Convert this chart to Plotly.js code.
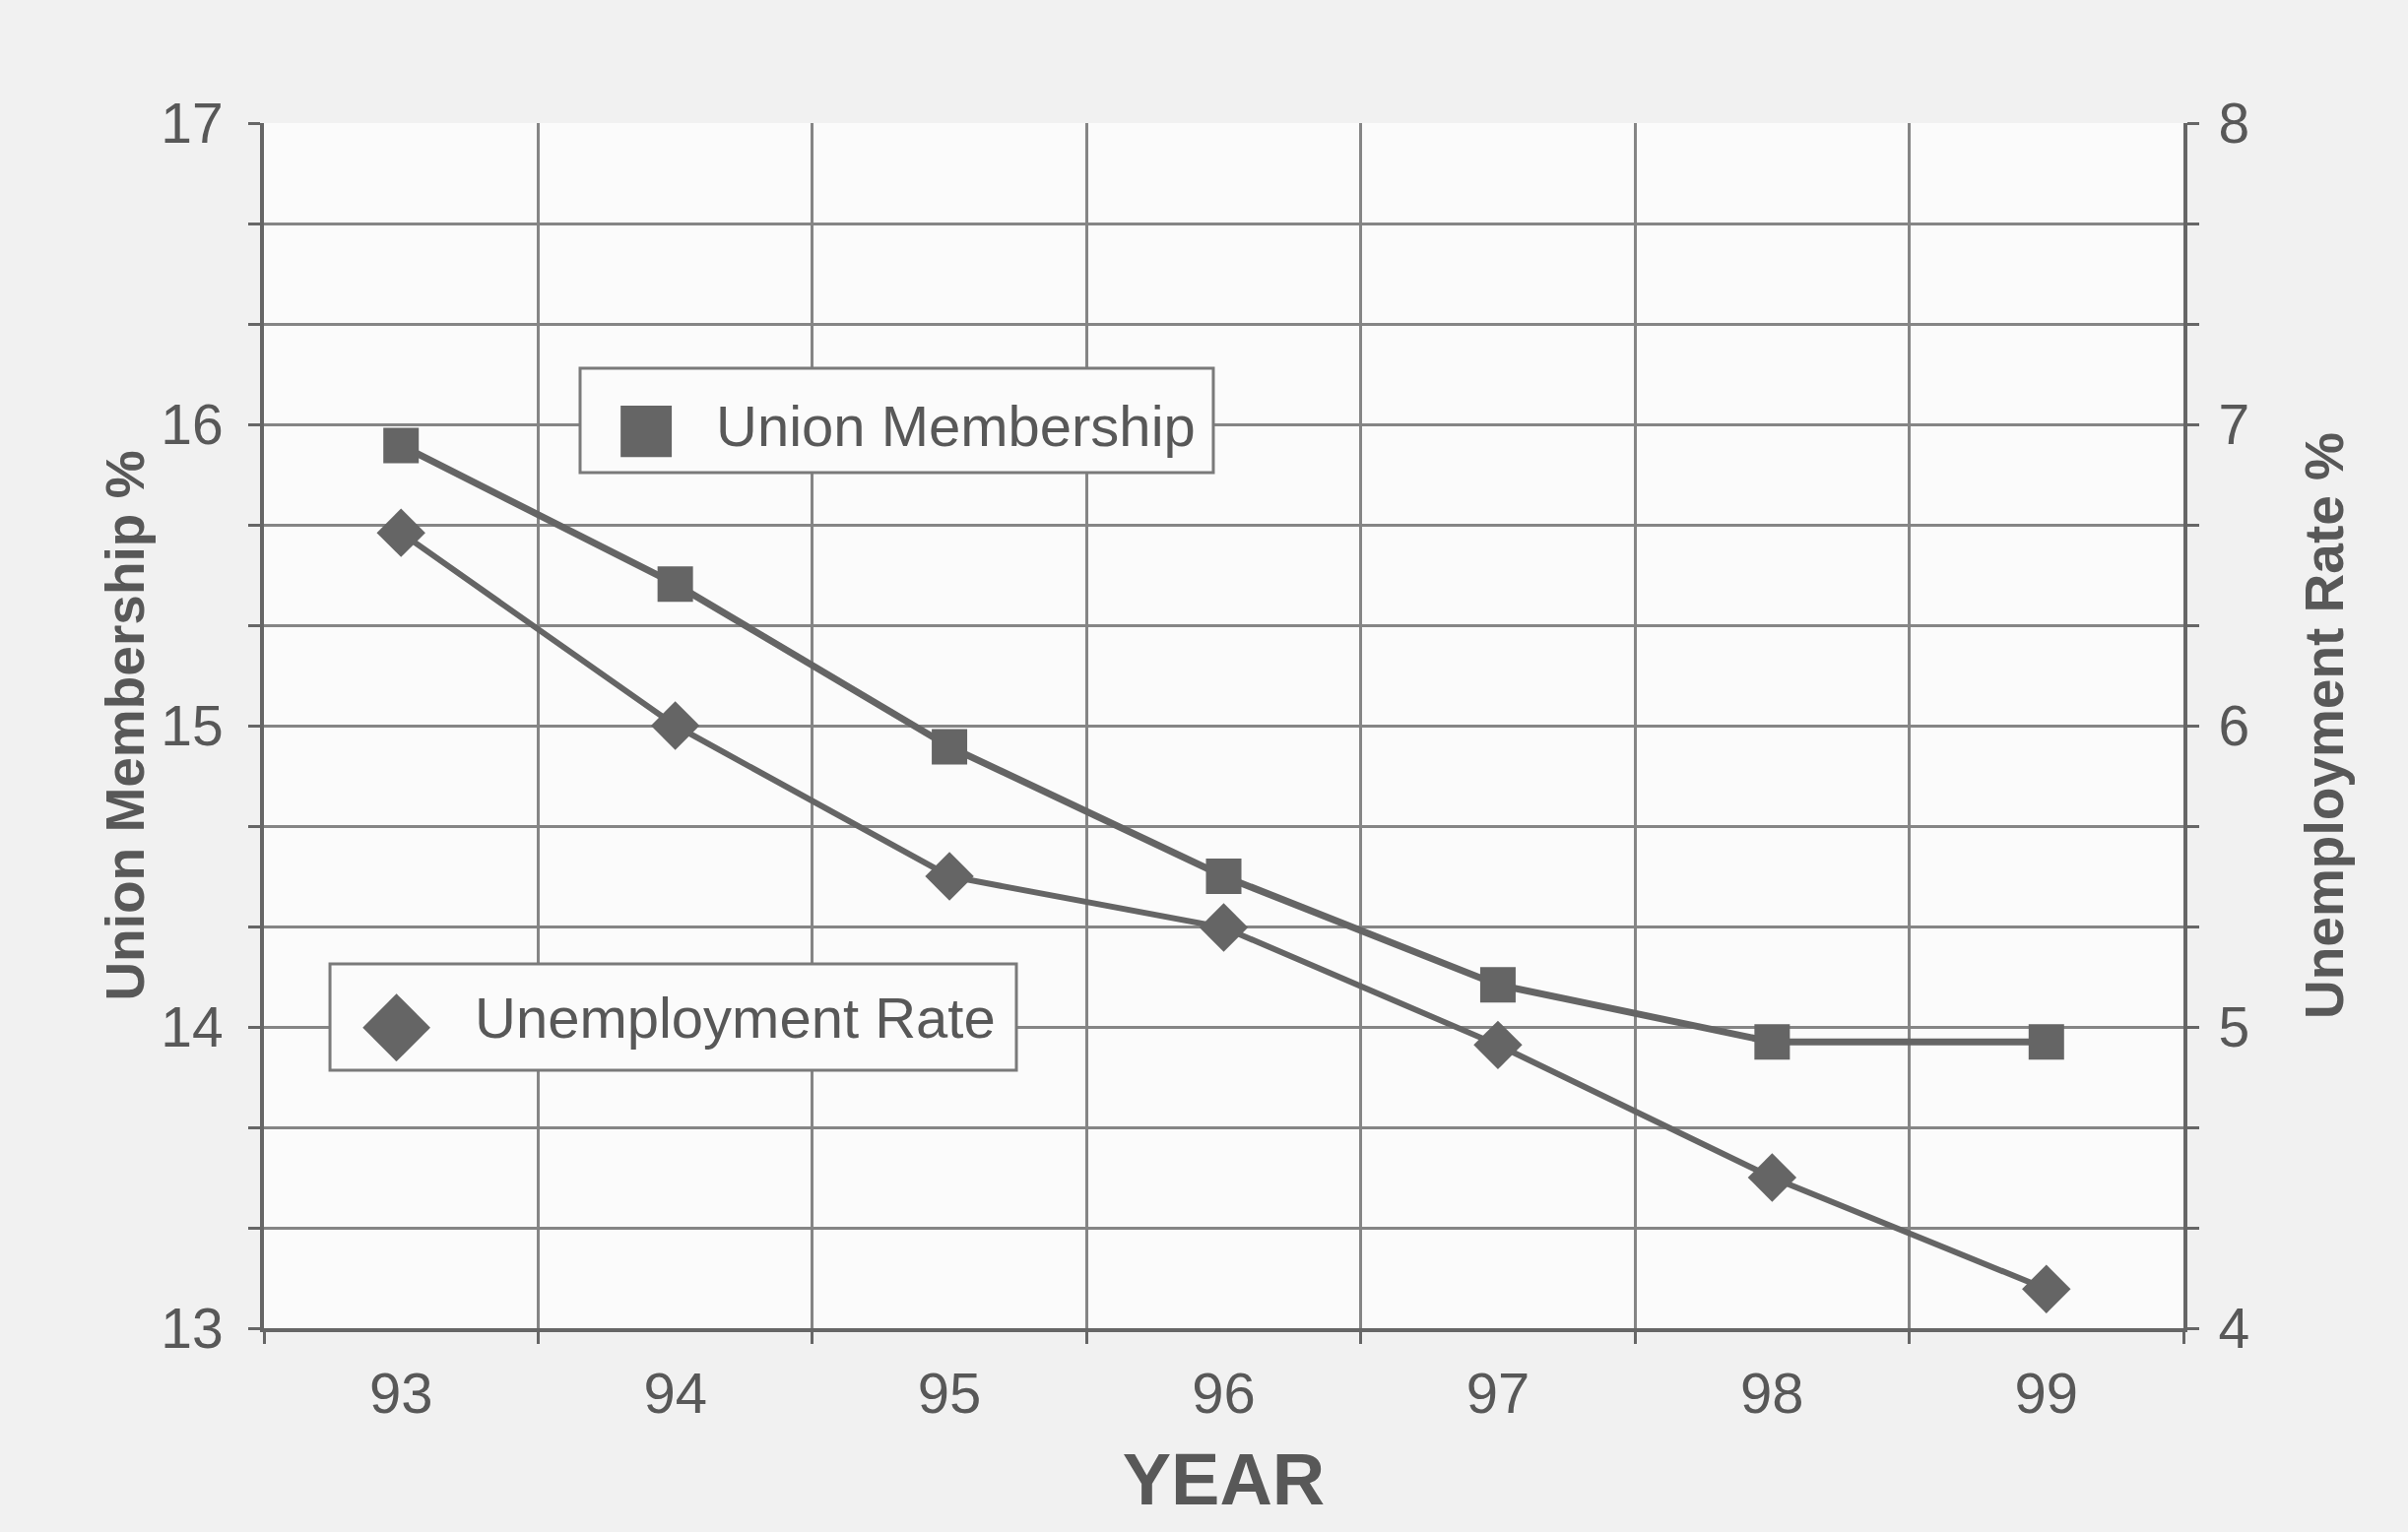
<!DOCTYPE html>
<html>
<head>
<meta charset="utf-8">
<script src="https://cdn.plot.ly/plotly-3.0.1.min.js"></script>
<style>
  html, body { margin: 0; padding: 0; background: #f1f1f1; }
  #chart { width: 2445px; height: 1556px; }
</style>
</head>
<body>
<div id="chart"></div>
<script>
// ---- data ----
const years = ['93', '94', '95', '96', '97', '98', '99'];
const unionMembership = [15.93, 15.47, 14.93, 14.5, 14.14, 13.95, 13.95];
const unemploymentRate = [6.64, 6.0, 5.5, 5.33, 4.94, 4.5, 4.13];
const seriesNames = ['Union Membership', 'Unemployment Rate'];
const legendGlyphs = ['\u25A0', '\u25C6'];
const axisTitles = { x: 'YEAR', y: 'Union Membership %', y2: 'Unemployment Rate %' };

const ink = '#585858';
const markCol = '#656565';
const gridCol = '#858585';
const FONT = 'Liberation Sans, Arial, Helvetica, sans-serif';

const traces = [
  {
    x: years, y: unionMembership, name: seriesNames[0],
    type: 'scatter', mode: 'lines+markers', yaxis: 'y',
    line: { color: markCol, width: 7 },
    marker: { symbol: 'square', size: 36, color: markCol },
    showlegend: false
  },
  {
    x: years, y: unemploymentRate, name: seriesNames[1],
    type: 'scatter', mode: 'lines+markers', yaxis: 'y2',
    line: { color: markCol, width: 6 },
    marker: { symbol: 'diamond', size: 38, color: markCol },
    showlegend: false
  }
];

// legend frames, glyphs and labels (placed in paper fractions of the plot area)
const legendBoxes = [
  { x0: 0.1647, x1: 0.4946, y0: 0.7100, y1: 0.7966, gx: 0.1990, gy: 0.749, gs: 68, tx: 0.2345, ty: 0.749 },
  { x0: 0.0344, x1: 0.3920, y0: 0.2141, y1: 0.3023, gx: 0.0688, gy: 0.2565, gs: 90, tx: 0.1088, ty: 0.2574 }
];

const shapes = legendBoxes.map(b => ({
  type: 'rect', xref: 'paper', yref: 'paper',
  x0: b.x0, x1: b.x1, y0: b.y0, y1: b.y1,
  fillcolor: '#fbfbfb', line: { color: '#7a7a7a', width: 3 }, layer: 'above'
}));

const annotations = [];
legendBoxes.forEach((b, i) => {
  annotations.push({
    xref: 'paper', yref: 'paper', x: b.gx, y: b.gy,
    xanchor: 'center', yanchor: 'middle', showarrow: false,
    text: legendGlyphs[i],
    font: { family: 'DejaVu Sans', size: b.gs, color: markCol }
  });
  annotations.push({
    xref: 'paper', yref: 'paper', x: b.tx, y: b.ty,
    xanchor: 'left', yanchor: 'middle', showarrow: false,
    text: seriesNames[i],
    font: { family: FONT, size: 58, color: ink }
  });
});

const layout = {
  width: 2445, height: 1556,
  margin: { l: 268, r: 228, t: 125, b: 207, pad: 0 },
  paper_bgcolor: '#f1f1f1',
  plot_bgcolor: '#fbfbfb',
  font: { family: FONT, color: ink, size: 56 },
  showlegend: false,
  xaxis: {
    type: 'category', range: [-0.5, 6.5], tickson: 'boundaries',
    showgrid: true, gridcolor: gridCol, gridwidth: 3,
    showline: true, linecolor: '#666', linewidth: 4,
    ticks: 'outside', ticklen: 12, tickwidth: 3, tickcolor: '#666',
    tickfont: { size: 58, color: ink }, ticklabelstandoff: 12,
    zeroline: false, fixedrange: true,
    title: { text: axisTitles.x, font: { size: 74, weight: 'bold', color: ink }, standoff: 32 }
  },
  yaxis: {
    range: [13, 17], tick0: 13, dtick: 1,
    showgrid: true, gridcolor: gridCol, gridwidth: 3,
    minor: { tick0: 13, dtick: 1 / 3, showgrid: true, gridcolor: gridCol, gridwidth: 3,
             ticks: 'outside', ticklen: 12, tickwidth: 3, tickcolor: '#666' },
    showline: true, linecolor: '#666', linewidth: 4,
    ticks: 'outside', ticklen: 12, tickwidth: 3, tickcolor: '#666',
    tickfont: { size: 57, color: ink }, ticklabelstandoff: 14,
    zeroline: false, fixedrange: true,
    title: { text: axisTitles.y, font: { size: 55, weight: 'bold', color: ink }, standoff: 0 }
  },
  yaxis2: {
    overlaying: 'y', side: 'right',
    range: [4, 8], tick0: 4, dtick: 1,
    showgrid: false,
    minor: { tick0: 4, dtick: 1 / 3, showgrid: false,
             ticks: 'outside', ticklen: 12, tickwidth: 3, tickcolor: '#666' },
    showline: true, linecolor: '#666', linewidth: 4,
    ticks: 'outside', ticklen: 12, tickwidth: 3, tickcolor: '#666',
    tickfont: { size: 57, color: ink }, ticklabelstandoff: 8,
    zeroline: false, fixedrange: true,
    title: { text: axisTitles.y2, font: { size: 55, weight: 'bold', color: ink }, standoff: 58 }
  },
  shapes: shapes,
  annotations: annotations
};

Plotly.newPlot('chart', traces, layout, { displayModeBar: false, staticPlot: true });
</script>
</body>
</html>
